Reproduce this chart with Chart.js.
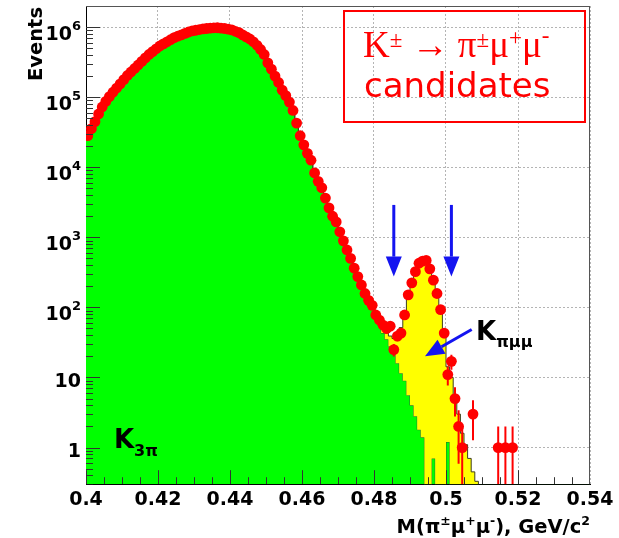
<!DOCTYPE html>
<html>
<head>
<meta charset="utf-8">
<style>
  body { margin: 0; background: #fff; }
  canvas { display: block; }
</style>
</head>
<body>
<canvas id="myChart" width="619" height="538"></canvas>
<script src="https://cdn.jsdelivr.net/npm/chart.js"></script>
<script>
// histogram binning: 140 bins of 1 MeV from 0.40 to 0.54 GeV/c2
let xMin = 0.4;
let xMax = 0.54;
let binWidth = 0.001;

// data (red points), one value per bin
let dataCounts = [
  28200, 35500, 44700, 57500, 72400, 87100, 102000, 117500, 135000, 155000,
  178000, 204000, 229000, 257000, 288000, 324000, 363000, 407000, 447000, 490000,
  537000, 575000, 617000, 661000, 708000, 741000, 776000, 813000, 851000, 881000,
  902000, 923000, 944000, 955000, 966000, 977000, 979000, 966000, 955000, 933000,
  912000, 871000, 832000, 776000, 724000, 676000, 617000, 550000, 479000, 407000,
  309000, 251000, 200000, 162000, 126000, 105000, 85100, 64600, 42700, 28200,
  20900, 15800, 12600, 8300, 6300, 5100, 3630, 2630, 2000, 1660,
  1200, 890, 660, 500, 363, 275, 209, 158, 126, 107,
  78, 66, 56, 50, 54, 25, 39, 43, 78, 151,
  224, 324, 427, 457, 468, 355, 245, 158, 93, 43,
  11, 17, 5, 2, 1, 0, 0, 3, 0, 0,
  0, 0, 0, 0, 1, 0, 1, 0, 1, 0,
  0, 0, 0, 0, 0, 0, 0, 0, 0, 0,
  0, 0, 0, 0, 0, 0, 0, 0, 0, 0
];

// K3pi simulation (green)
let k3piMC = [
  25500, 32000, 40500, 52000, 65500, 79000, 93000, 107000, 123000, 141000,
  162000, 186000, 209000, 235000, 263000, 296000, 332000, 372000, 409000, 448000,
  491000, 527000, 565000, 605000, 648000, 680000, 712000, 745000, 780000, 808000,
  828000, 847000, 866000, 876000, 886000, 896000, 897000, 886000, 876000, 856000,
  836000, 798000, 762000, 711000, 663000, 619000, 565000, 503000, 438000, 372000,
  283000, 229000, 183000, 148000, 115000, 95800, 77700, 59000, 39000, 25800,
  19100, 14400, 11500, 7600, 5750, 4650, 3310, 2400, 1830, 1510,
  1100, 810, 600, 455, 330, 250, 190, 143, 118, 98,
  72, 56, 43, 35, 28, 22, 16, 11.5, 9, 5.6,
  4, 2.8, 1.8, 1.4, 0.2, 0.2, 0.7, 0.1, 0.1, 0.2,
  1.2, 0, 0, 0, 0, 0, 0, 0, 0, 0,
  0, 0, 0, 0, 0, 0, 0, 0, 0, 0,
  0, 0, 0, 0, 0, 0, 0, 0, 0, 0,
  0, 0, 0, 0, 0, 0, 0, 0, 0, 0
];

// K -> pi mu mu simulation (yellow, stacked on K3pi)
let kpimumuMC = [
  0, 0, 0, 0, 0, 0, 0, 0, 0, 0,
  0, 0, 0, 0, 0, 0, 0, 0, 0, 0,
  0, 0, 0, 0, 0, 0, 0, 0, 0, 0,
  0, 0, 0, 0, 0, 0, 0, 0, 0, 0,
  0, 0, 0, 0, 0, 0, 0, 0, 0, 0,
  0, 0, 0, 0, 0, 0, 0, 0, 0, 0,
  0, 0, 0, 0, 0, 0, 0, 0, 0, 0,
  0, 0, 0, 0, 0, 0, 0, 0, 2, 3,
  4, 5, 6, 8, 11, 14, 22, 40, 70, 135,
  220, 320, 420, 465, 470, 380, 250, 160, 90, 40,
  13, 10, 5, 3, 1.6, 1.1, 0.7, 0.45, 0.33, 0,
  0, 0, 0, 0, 0, 0, 0, 0, 0, 0,
  0, 0, 0, 0, 0, 0, 0, 0, 0, 0,
  0, 0, 0, 0, 0, 0, 0, 0, 0, 0
];

let xTicks = [0.4, 0.42, 0.44, 0.46, 0.48, 0.5, 0.52, 0.54];
let yTicks = [1, 10, 100, 1000, 10000, 100000, 1000000];
let yTickLabels = [['1', ''], ['10', ''], ['10', '2'], ['10', '3'], ['10', '4'], ['10', '5'], ['10', '6']];
let yMin = 0.3;
let yMax = 2e6;

let signalWindow = [0.4855, 0.5015];

let axisFont = 'bold 19px "DejaVu Sans"';

// step histogram points at bin edges (log axis can't take 0, so floor it below the axis)
function histPoints(values) {
  let pts = values.map((v, k) => ({ x: xMin + k * binWidth, y: Math.max(v, 0.01) }));
  pts.push({ x: xMax, y: Math.max(values[values.length - 1], 0.01) });
  return pts;
}

let totalMC = k3piMC.map((v, k) => v + kpimumuMC[k]);

let dataPoints = [];
dataCounts.forEach((n, k) => {
  if (n > 0) dataPoints.push({ x: xMin + (k + 0.5) * binWidth, y: n });
});

function line(ctx, x1, y1, x2, y2) {
  ctx.beginPath(); ctx.moveTo(x1, y1); ctx.lineTo(x2, y2); ctx.stroke();
}

function arrow(ctx, x1, y1, x2, y2, headLen, headW, width) {
  let dx = x2 - x1, dy = y2 - y1, len = Math.hypot(dx, dy);
  let ux = dx / len, uy = dy / len;
  let bx = x2 - ux * headLen, by = y2 - uy * headLen;
  ctx.lineWidth = width;
  line(ctx, x1, y1, bx, by);
  ctx.beginPath();
  ctx.moveTo(x2, y2);
  ctx.lineTo(bx - uy * headW / 2, by + ux * headW / 2);
  ctx.lineTo(bx + uy * headW / 2, by - ux * headW / 2);
  ctx.closePath();
  ctx.fill();
}

// text with super/subscripts: parts = [text, font, dy]
function richText(ctx, parts, x, y, align) {
  let w = 0;
  parts.forEach(p => { ctx.font = p[1]; w += ctx.measureText(p[0]).width; });
  let cx = align === 'right' ? x - w : x;
  ctx.textAlign = 'left';
  ctx.textBaseline = 'alphabetic';
  parts.forEach(p => {
    ctx.font = p[1];
    ctx.fillText(p[0], cx, y + (p[2] || 0));
    cx += ctx.measureText(p[0]).width;
  });
}

let decor = {
  id: 'decor',
  afterDatasetsDraw(chart) {
    let ctx = chart.ctx, a = chart.chartArea;
    let x = chart.scales.x, y = chart.scales.y;
    ctx.save();
    ctx.beginPath();
    ctx.rect(a.left, a.top, a.right - a.left, a.bottom - a.top);
    ctx.clip();

    // sqrt(N) error bars
    ctx.strokeStyle = '#ff0000';
    ctx.lineWidth = 2;
    dataPoints.forEach(p => {
      let e = Math.sqrt(p.y);
      let px = x.getPixelForValue(p.x);
      let lo = p.y - e > 0 ? y.getPixelForValue(p.y - e) : a.bottom;
      line(ctx, px, lo, px, y.getPixelForValue(p.y + e));
    });

    // inward ticks
    ctx.strokeStyle = '#333';
    ctx.lineWidth = 1;
    for (let i = 0; i <= 28; i++) {
      let px = Math.round(x.getPixelForValue(xMin + i * 0.005)) + 0.5;
      let len = i % 4 === 0 ? 14 : 7;
      line(ctx, px, a.bottom, px, a.bottom - len);
    }
    for (let e = -1; e <= 6; e++) {
      for (let m = 1; m <= 9; m++) {
        let v = m * Math.pow(10, e);
        if (v < yMin || v > yMax) continue;
        let py = Math.round(y.getPixelForValue(v)) + 0.5;
        line(ctx, a.left, py, a.left + (m === 1 ? 14 : 7), py);
      }
    }
    ctx.restore();

    // frame top / right
    ctx.save();
    ctx.strokeStyle = '#555';
    ctx.lineWidth = 1;
    line(ctx, a.left, a.top + 0.5, a.right, a.top + 0.5);
    line(ctx, a.right - 0.5, a.top, a.right - 0.5, a.bottom);
    ctx.restore();
  },
  afterDraw(chart) {
    let ctx = chart.ctx, a = chart.chartArea;
    let x = chart.scales.x, y = chart.scales.y;
    ctx.save();
    ctx.fillStyle = '#000';

    // y tick labels
    yTicks.forEach((v, i) => {
      let py = y.getPixelForValue(v);
      let lab = yTickLabels[i];
      if (lab[1]) {
        richText(ctx, [[lab[0], axisFont, 0], [lab[1], 'bold 13px "DejaVu Sans"', -10]], 81, py + 13, 'right');
      } else {
        richText(ctx, [[lab[0], axisFont, 0]], 81, py + 9.5, 'right');
      }
    });

    // axis titles
    ctx.save();
    ctx.translate(42, a.top + 1);
    ctx.rotate(-Math.PI / 2);
    ctx.font = 'bold 19.5px "DejaVu Sans"';
    ctx.textAlign = 'right';
    ctx.textBaseline = 'alphabetic';
    ctx.fillText('Events', 0, 0);
    ctx.restore();

    let sup = 'bold 12.5px "DejaVu Sans"';
    let tf = 'bold 19.5px "DejaVu Sans"';
    richText(ctx, [
      ['M(\u03c0', tf], ['\u00b1', sup, -8], ['\u03bc', tf], ['+', sup, -8],
      ['\u03bc', tf], ['-', sup, -8], ['), GeV/c', tf], ['2', sup, -8]
    ], a.right, 533, 'right');

    // process box
    ctx.strokeStyle = '#ff0000';
    ctx.lineWidth = 2;
    ctx.strokeRect(344, 11, 241, 111);
    ctx.fillStyle = '#ff0000';
    let serif = '37px "Liberation Serif"', serifSup = '23px "Liberation Serif"';
    richText(ctx, [
      ['K', serif], ['\u00b1', serifSup, -10], [' \u2192 \u03c0', serif], ['\u00b1', serifSup, -10],
      ['\u03bc', serif], ['+', serifSup, -12], ['\u03bc', serif], ['-', serifSup, -14]
    ], 363, 57, 'left');
    richText(ctx, [['candidates', '34px "DejaVu Sans"']], 364, 97, 'left');

    // signal window arrows
    ctx.fillStyle = '#1414f0';
    ctx.strokeStyle = '#1414f0';
    signalWindow.forEach(v => {
      let px = x.getPixelForValue(v);
      arrow(ctx, px, y.getPixelForValue(2900), px, y.getPixelForValue(275), 20, 16, 3);
    });
    arrow(ctx, x.getPixelForValue(0.50714), y.getPixelForValue(48.3),
      x.getPixelForValue(0.49417), y.getPixelForValue(20.1), 19, 16, 3);

    // component labels
    ctx.fillStyle = '#000';
    richText(ctx, [['K', 'bold 26px "DejaVu Sans"'], ['\u03c0\u03bc\u03bc', 'bold 16px "DejaVu Sans"', 7]],
      x.getPixelForValue(0.50835), y.getPixelForValue(34.7), 'left');
    richText(ctx, [['K', 'bold 26px "DejaVu Sans"'], ['3\u03c0', 'bold 16px "DejaVu Sans"', 8]],
      x.getPixelForValue(0.40775), y.getPixelForValue(1), 'left');
    ctx.restore();
  }
};

let myChart = new Chart(document.getElementById('myChart'), {
  type: 'line',
  data: {
    datasets: [
      {
        label: 'K3pi', data: histPoints(k3piMC), stepped: true, fill: 'start',
        backgroundColor: '#00ff00', borderColor: '#2e6a2e', borderWidth: 1, pointRadius: 0, order: 2
      },
      {
        label: 'Kpimumu', data: histPoints(totalMC), stepped: true, fill: '-1',
        backgroundColor: '#ffff00', borderColor: '#3c3c20', borderWidth: 1, pointRadius: 0, order: 1
      },
      {
        label: 'data', data: dataPoints, showLine: false, pointRadius: 5.4,
        pointBackgroundColor: '#ff0000', pointBorderColor: '#ff0000', pointBorderWidth: 0, order: 0
      }
    ]
  },
  plugins: [decor],
  options: {
    responsive: false,
    animation: false,
    layout: { padding: { left: 86, right: 29, top: 6, bottom: 23 } },
    plugins: { legend: { display: false }, tooltip: { enabled: false } },
    scales: {
      x: {
        type: 'linear', min: xMin, max: xMax,
        afterBuildTicks: s => { s.ticks = xTicks.map(v => ({ value: v })); },
        ticks: {
          callback: v => String(v), color: '#000', padding: 4,
          maxRotation: 0, autoSkip: false,
          font: { family: 'DejaVu Sans', weight: 'bold', size: 19 }
        },
        grid: { color: '#b4b4b4', drawTicks: false },
        border: { color: '#000', dash: [2, 2] }
      },
      y: {
        type: 'logarithmic', min: yMin, max: yMax,
        afterBuildTicks: s => { s.ticks = yTicks.map(v => ({ value: v })); },
        ticks: { display: false },
        grid: { color: '#b4b4b4', drawTicks: false },
        border: { color: '#000', dash: [2, 2] }
      }
    }
  }
});
</script>
</body>
</html>
